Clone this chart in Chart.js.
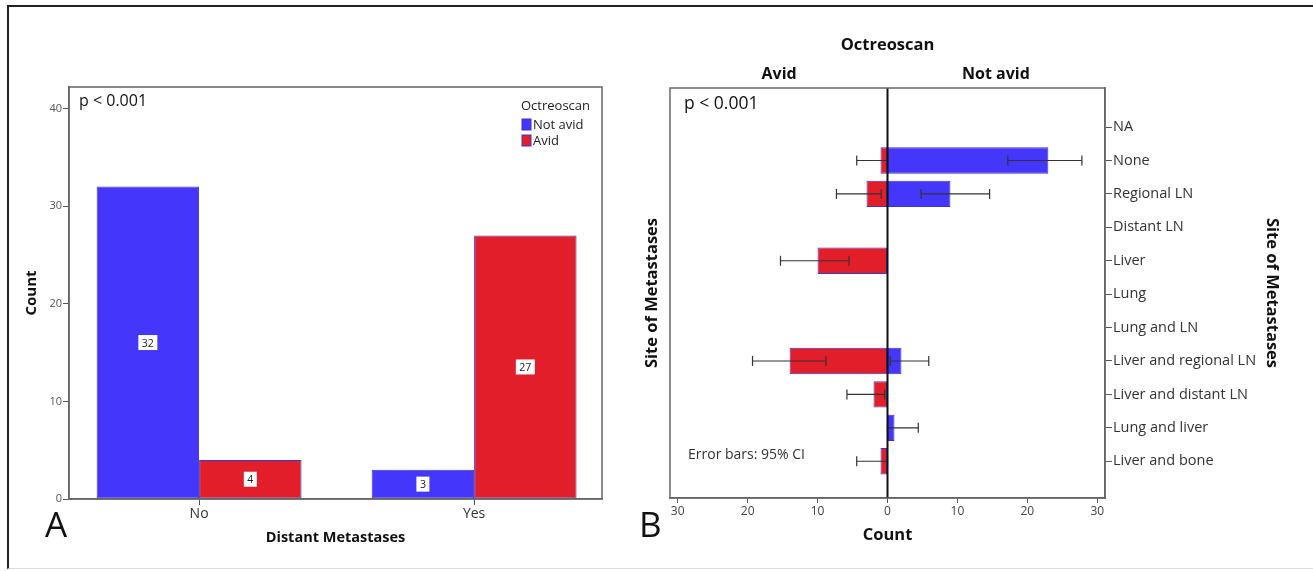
<!DOCTYPE html>
<html>
<head>
<meta charset="utf-8">
<script src="https://cdn.jsdelivr.net/npm/chart.js@4"></script>
<style>
  body { margin: 0; background: #fff; width: 1313px; height: 571px; overflow: hidden; position: relative; }
  #frame { position: absolute; left: 7px; top: 5px; width: 1320px; height: 561px;
           border-top: 2px solid #222; border-left: 2px solid #222; border-bottom: 1px solid #ddd; }
  #wrapA { position: absolute; left: 0; top: 0; }
  #wrapB { position: absolute; left: 630px; top: 0; }
</style>
</head>
<body>
<div id="frame"></div>
<div id="wrapA"><canvas id="chartA" width="630" height="571"></canvas></div>
<div id="wrapB"><canvas id="chartB" width="683" height="571"></canvas></div>
<script>
// panel A data
var distCategories = ["No", "Yes"];
var notAvidCounts = [32, 3];
var avidCounts = [4, 27];
var countTicksA = [0, 10, 20, 30, 40];

// panel B data
var sites = ["NA", "None", "Regional LN", "Distant LN", "Liver", "Lung", "Lung and LN",
  "Liver and regional LN", "Liver and distant LN", "Lung and liver", "Liver and bone"];
var siteAvid = [0, 1, 3, 0, 10, 0, 0, 14, 2, 0, 1];
var siteNotAvid = [0, 23, 9, 0, 0, 0, 0, 2, 0, 1, 0];
var avidCiLow = [null, 0, 0.9, null, 5.5, null, null, 8.8, 0.4, null, 0];
var avidCiHigh = [null, 4.4, 7.3, null, 15.3, null, null, 19.3, 5.8, null, 4.4];
var notAvidCiLow = [null, 17.2, 4.8, null, null, null, null, 0.4, null, 0, null];
var notAvidCiHigh = [null, 27.8, 14.6, null, null, null, null, 5.9, null, 4.4, null];
var countTicksB = [-30, -20, -10, 0, 10, 20, 30];

var BLUE = "#4536fb";
var RED = "#e21e2a";
var EDGE = "#3c37c4";
var FONT = "'Open Sans', 'Noto Sans', sans-serif";

Chart.defaults.font.family = FONT;
Chart.defaults.color = "#333";

// box round the plot area
var boxPlugin = {
  id: "box",
  afterDraw: function (chart) {
    var a = chart.chartArea, ctx = chart.ctx;
    ctx.save();
    ctx.strokeStyle = "#666";
    ctx.lineWidth = 1.5;
    ctx.strokeRect(a.left, a.top, a.right - a.left, a.bottom - a.top);
    ctx.restore();
  }
};

// white boxes with counts in panel A
var countLabels = {
  id: "countLabels",
  afterDatasetsDraw: function (chart) {
    var ctx = chart.ctx;
    ctx.save();
    ctx.font = "10.5px " + FONT;
    ctx.textAlign = "center";
    ctx.textBaseline = "middle";
    chart.data.datasets.forEach(function (ds, i) {
      chart.getDatasetMeta(i).data.forEach(function (bar, j) {
        var txt = String(ds.data[j].y);
        var w = ctx.measureText(txt).width + 7;
        var cy = (bar.y + bar.base) / 2;
        ctx.fillStyle = "#fff";
        ctx.fillRect(bar.x - w / 2, cy - 7.5, w, 15);
        ctx.fillStyle = "#222";
        ctx.fillText(txt, bar.x, cy + 1);
      });
    });
    ctx.restore();
  }
};

var notesA = {
  id: "notesA",
  afterDraw: function (chart) {
    var a = chart.chartArea, ctx = chart.ctx;
    ctx.save();
    ctx.fillStyle = "#111";
    ctx.textBaseline = "middle";
    ctx.font = "16px " + FONT;
    ctx.fillText("p < 0.001", a.left + 10, a.top + 14);
    ctx.font = "35px " + FONT;
    ctx.fillText("A", 45, 527);
    // legend
    ctx.font = "13px " + FONT;
    ctx.fillStyle = "#222";
    ctx.fillText("Octreoscan", a.right - 81, a.top + 19);
    chart.data.datasets.forEach(function (ds, i) {
      var y = a.top + 32 + i * 16;
      ctx.fillStyle = ds.backgroundColor;
      ctx.fillRect(a.right - 80, y, 9, 11);
      ctx.strokeStyle = EDGE;
      ctx.lineWidth = 1;
      ctx.strokeRect(a.right - 80, y, 9, 11);
      ctx.fillStyle = "#222";
      ctx.fillText(ds.label, a.right - 69, y + 6);
    });
    ctx.restore();
  }
};

function groups(values) {
  return distCategories.map(function (c, i) { return { x: i, y: values[i] }; });
}

new Chart(document.getElementById("chartA"), {
  type: "bar",
  data: {
    datasets: [
      { label: "Not avid", data: groups(notAvidCounts), backgroundColor: BLUE },
      { label: "Avid", data: groups(avidCounts), backgroundColor: RED }
    ]
  },
  options: {
    responsive: false,
    animation: false,
    layout: { padding: { left: 19, right: 28, top: 87, bottom: 20 } },
    plugins: { legend: { display: false }, tooltip: { enabled: false } },
    datasets: {
      bar: { categoryPercentage: 0.745, barPercentage: 1, borderWidth: 1, borderColor: EDGE, borderSkipped: false }
    },
    scales: {
      x: {
        type: "linear",
        offset: false,
        min: -0.473,
        max: 1.465,
        afterBuildTicks: function (s) { s.ticks = distCategories.map(function (c, i) { return { value: i }; }); },
        grid: { offset: false, drawOnChartArea: false, tickLength: 6, tickColor: "#555" },
        border: { color: "#666", width: 1.5 },
        ticks: { callback: function (v) { return distCategories[v]; }, font: { size: 14 }, color: "#333", padding: 1 },
        title: { display: true, text: "Distant Metastases", font: { size: 14.5, weight: "bold" }, color: "#111" },
        afterFit: function (s) { s.height = 52; }
      },
      y: {
        min: 0,
        max: 42.2,
        afterBuildTicks: function (s) { s.ticks = countTicksA.map(function (v) { return { value: v }; }); },
        ticks: { font: { size: 11 }, color: "#555", padding: 1 },
        grid: { drawOnChartArea: false, tickLength: 6, tickColor: "#555" },
        border: { color: "#666", width: 1.5 },
        title: { display: true, text: "Count", font: { size: 15, weight: "bold" }, color: "#111" },
        afterFit: function (s) { s.width = 50; }
      }
    }
  },
  plugins: [boxPlugin, countLabels, notesA]
});

// panel B: error bars and texts
var errorBars = {
  id: "errorBars",
  afterDatasetsDraw: function (chart) {
    var ctx = chart.ctx, xs = chart.scales.x;
    ctx.save();
    ctx.strokeStyle = "#333";
    ctx.lineWidth = 1.2;
    chart.data.datasets.forEach(function (ds, i) {
      var sign = ds.side;
      chart.getDatasetMeta(i).data.forEach(function (bar, j) {
        if (ds.ciLow[j] == null) return;
        var x1 = xs.getPixelForValue(sign * ds.ciLow[j]);
        var x2 = xs.getPixelForValue(sign * ds.ciHigh[j]);
        var y = bar.y;
        ctx.beginPath();
        ctx.moveTo(x1, y); ctx.lineTo(x2, y);
        ctx.moveTo(x1, y - 5); ctx.lineTo(x1, y + 5);
        ctx.moveTo(x2, y - 5); ctx.lineTo(x2, y + 5);
        ctx.stroke();
      });
    });
    // zero line
    var x0 = xs.getPixelForValue(0), a = chart.chartArea;
    ctx.strokeStyle = "#111";
    ctx.lineWidth = 2;
    ctx.beginPath();
    ctx.moveTo(x0, a.top); ctx.lineTo(x0, a.bottom);
    ctx.stroke();
    ctx.restore();
  }
};

var notesB = {
  id: "notesB",
  afterDraw: function (chart) {
    var a = chart.chartArea, ctx = chart.ctx, xs = chart.scales.x;
    ctx.save();
    ctx.fillStyle = "#111";
    ctx.textBaseline = "middle";
    ctx.textAlign = "center";
    ctx.font = "bold 16.5px " + FONT;
    ctx.fillText("Octreoscan", xs.getPixelForValue(0), 45);
    ctx.font = "bold 16px " + FONT;
    ctx.fillText("Avid", xs.getPixelForValue(-15.5), 74);
    ctx.fillText("Not avid", xs.getPixelForValue(15.5), 74);
    ctx.textAlign = "left";
    ctx.font = "17.5px " + FONT;
    ctx.fillText("p < 0.001", a.left + 14, a.top + 16);
    ctx.font = "14px " + FONT;
    ctx.fillStyle = "#333";
    ctx.fillText("Error bars: 95% CI", a.left + 18, a.bottom - 43);
    ctx.fillStyle = "#111";
    ctx.font = "35px " + FONT;
    ctx.fillText("B", 9, 527);
    ctx.restore();
  }
};

function rows(values, sign) {
  return sites.map(function (s, i) {
    return { x: values[i] ? sign * values[i] : null, y: i };
  });
}

new Chart(document.getElementById("chartB"), {
  type: "bar",
  data: {
    datasets: [
      { label: "Avid", data: rows(siteAvid, -1), backgroundColor: RED, side: -1,
        ciLow: avidCiLow, ciHigh: avidCiHigh, yAxisID: "y" },
      { label: "Not avid", data: rows(siteNotAvid, 1), backgroundColor: BLUE, side: 1,
        ciLow: notAvidCiLow, ciHigh: notAvidCiHigh, yAxisID: "y" }
    ]
  },
  options: {
    indexAxis: "y",
    responsive: false,
    animation: false,
    layout: { padding: { left: 8, right: 27, top: 88, bottom: 22 } },
    plugins: { legend: { display: false }, tooltip: { enabled: false } },
    datasets: {
      bar: { grouped: false, categoryPercentage: 1, barPercentage: 0.79, borderWidth: 1,
             borderColor: EDGE, borderSkipped: false }
    },
    scales: {
      x: {
        min: -31.1,
        max: 31.1,
        afterBuildTicks: function (s) { s.ticks = countTicksB.map(function (v) { return { value: v }; }); },
        ticks: { callback: function (v) { return Math.abs(v); }, font: { size: 12 }, color: "#444", padding: 1 },
        grid: { drawOnChartArea: false, tickLength: 5, tickColor: "#555" },
        border: { color: "#666", width: 1.5 },
        title: { display: true, text: "Count", font: { size: 16.5, weight: "bold" }, color: "#111" },
        afterFit: function (s) { s.height = 51; }
      },
      y: {
        type: "linear",
        position: "right",
        reverse: true,
        offset: false,
        min: -1.17,
        max: 11.1,
        afterBuildTicks: function (s) { s.ticks = sites.map(function (n, i) { return { value: i }; }); },
        ticks: { callback: function (v) { return sites[v]; }, font: { size: 14.5 }, color: "#333", padding: 1 },
        grid: { offset: false, drawOnChartArea: false, tickLength: 7, tickColor: "#555" },
        border: { color: "#666", width: 1.5 },
        title: { display: true, text: "Site of Metastases", font: { size: 16.5, weight: "bold" }, color: "#111" },
        afterFit: function (s) { s.width = 181; }
      },
      yLeft: {
        type: "linear",
        position: "left",
        ticks: { display: false },
        grid: { display: false },
        border: { display: false },
        title: { display: true, text: "Site of Metastases", font: { size: 16.5, weight: "bold" }, color: "#111" },
        afterFit: function (s) { s.width = 32; }
      }
    }
  },
  plugins: [boxPlugin, errorBars, notesB]
});
</script>
</body>
</html>
